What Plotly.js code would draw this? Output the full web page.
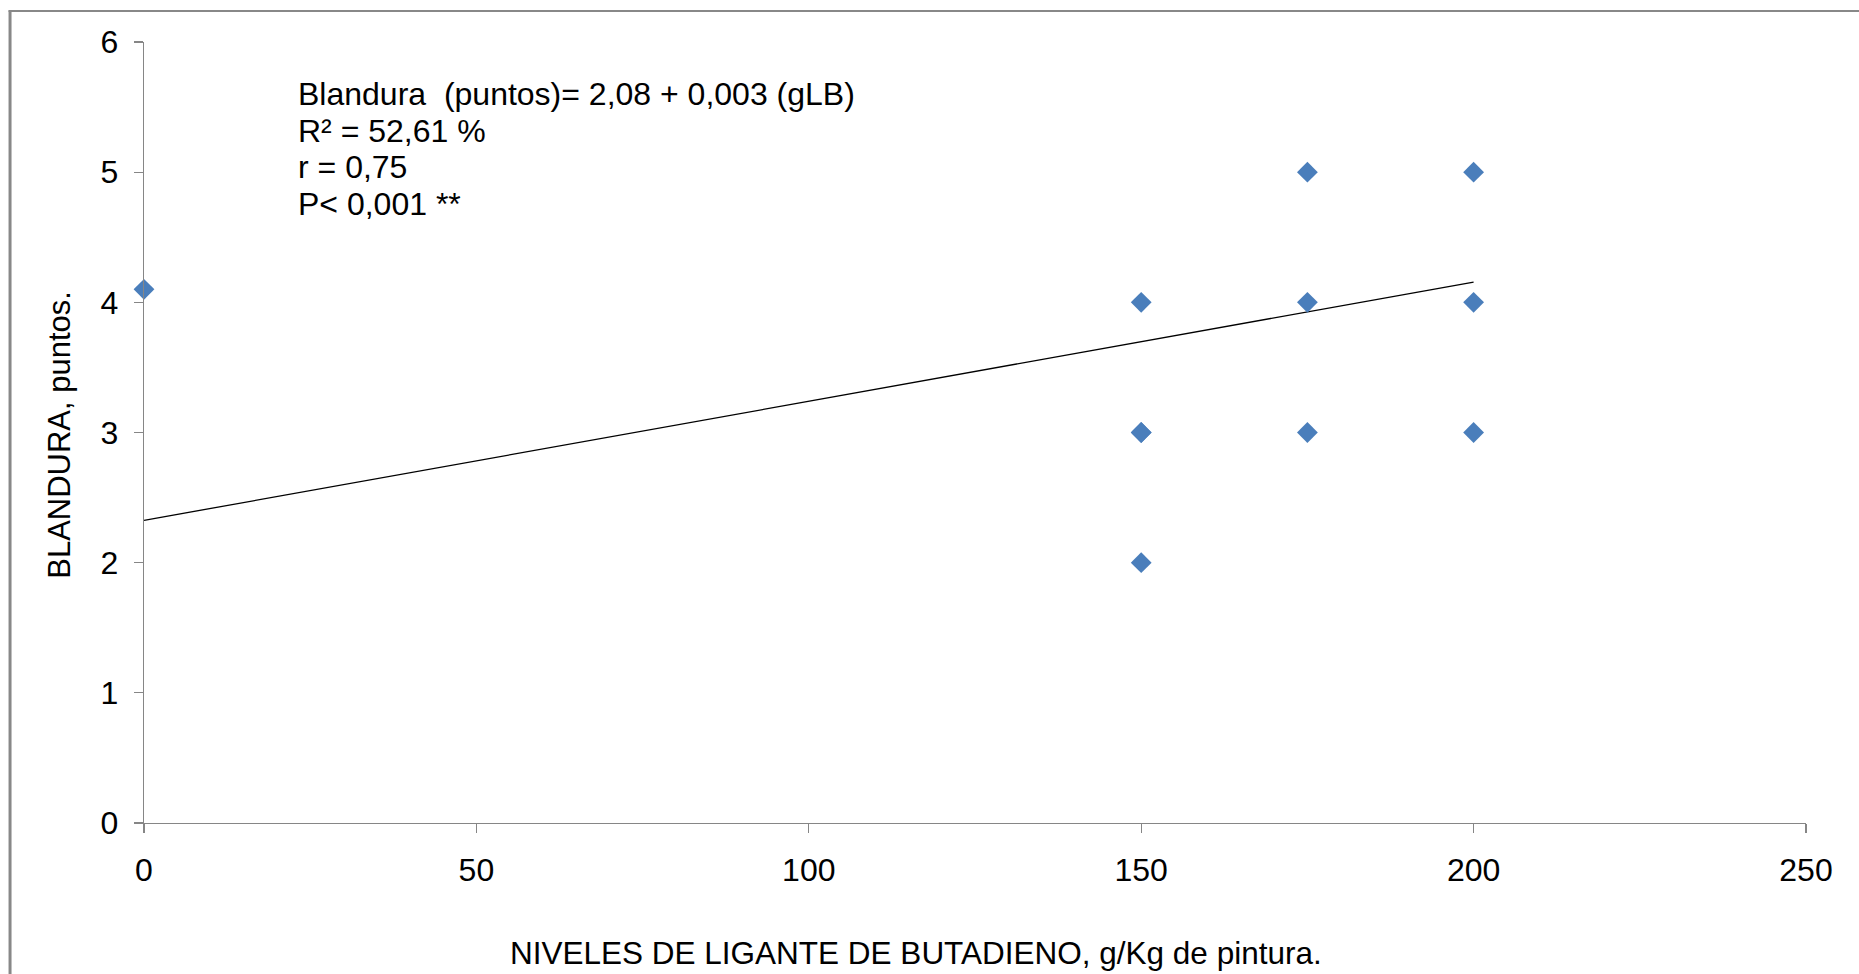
<!DOCTYPE html>
<html>
<head>
<meta charset="utf-8">
<script src="https://cdn.plot.ly/plotly-3.0.1.min.js"></script>
<style>html,body{margin:0;padding:0;background:#fff;}#chart{width:1859px;height:974px;}</style>
</head>
<body>
<div id="chart"></div>
<script>
// Observed data (g/Kg binder level vs softness score)
var nivel = [0, 150, 150, 150, 150, 175, 175, 175, 200, 200, 200];
var blandura = [4.1, 4, 3, 3, 2, 5, 4, 3, 5, 4, 3];
// Trend line as drawn in the reference (end points)
var trendX = [0, 200];
var trendY = [2.325, 4.155];
var xTicks = [0, 50, 100, 150, 200, 250];
var yTicks = [0, 1, 2, 3, 4, 5, 6];
var eqLines = ["Blandura  (puntos)= 2,08 + 0,003 (gLB)", "R² = 52,61 %", "r = 0,75", "P< 0,001 **"];

var font = "Liberation Sans, Arial, sans-serif";
var W = 1859, H = 974;
var mL = 143.5, mR = 53, mT = 41.5, mB = 151;
var pw = W - mL - mR, ph = H - mT - mB;
function px2x(p){ return (p - mL) / pw; }
function py2y(p){ return (H - mB - p) / ph; }

var traces = [
  {x: trendX, y: trendY, mode: 'lines', type: 'scatter',
   line: {color: '#000000', width: 1.3}, hoverinfo: 'skip', showlegend: false},
  {x: nivel, y: blandura, mode: 'markers', type: 'scatter', cliponaxis: false,
   marker: {symbol: 'diamond', size: 16, color: '#4a7ebb', line: {width: 0}}, showlegend: false}
];

var eqY = [93.5, 130.5, 167, 204];
var annotations = eqLines.map(function(t, i){
  return {xref: 'paper', yref: 'paper', x: px2x(296), y: py2y(eqY[i]), xanchor: 'left', yanchor: 'middle',
          text: t, align: 'left', showarrow: false, font: {family: font, size: 32, color: '#000'}};
});
annotations.push(
  {xref: 'paper', yref: 'paper', x: px2x(916), y: py2y(953), xanchor: 'center', yanchor: 'middle',
   text: 'NIVELES DE LIGANTE DE BUTADIENO, g/Kg de pintura.', showarrow: false,
   font: {family: font, size: 31.5, color: '#000'}},
  {xref: 'paper', yref: 'paper', x: px2x(59), y: py2y(435), xanchor: 'center', yanchor: 'middle',
   text: 'BLANDURA, puntos.', textangle: -90, showarrow: false,
   font: {family: font, size: 31, color: '#000'}}
);

var layout = {
  width: W, height: H,
  margin: {l: mL, r: mR, t: mT, b: mB, pad: 0},
  paper_bgcolor: '#ffffff', plot_bgcolor: '#ffffff',
  font: {family: font, size: 31, color: '#000000'},
  showlegend: false,
  xaxis: {range: [0, 250], tickvals: xTicks, ticktext: xTicks.map(String),
          showgrid: false, zeroline: false, showline: true, linecolor: '#868686', linewidth: 1.3,
          ticks: 'outside', ticklen: 9, tickwidth: 1.3, tickcolor: '#868686', ticklabelstandoff: 9,
          tickfont: {family: font, size: 32, color: '#000'}, fixedrange: true},
  yaxis: {range: [0, 6], tickvals: yTicks, ticktext: yTicks.map(String),
          showgrid: false, zeroline: false, showline: true, linecolor: '#868686', linewidth: 1.3,
          ticks: 'outside', ticklen: 9, tickwidth: 1.3, tickcolor: '#868686', ticklabelstandoff: 9,
          tickfont: {family: font, size: 32, color: '#000'}, fixedrange: true},
  shapes: [
    {type: 'line', xref: 'paper', yref: 'paper', x0: px2x(9.5), x1: px2x(9.5), y0: py2y(10), y1: py2y(980),
     line: {color: '#888888', width: 3}},
    {type: 'line', xref: 'paper', yref: 'paper', x0: px2x(8), x1: px2x(1870), y0: py2y(10.5), y1: py2y(10.5),
     line: {color: '#888888', width: 2}}
  ],
  annotations: annotations
};

Plotly.newPlot('chart', traces, layout, {displayModeBar: false, staticPlot: true});
</script>
</body>
</html>
